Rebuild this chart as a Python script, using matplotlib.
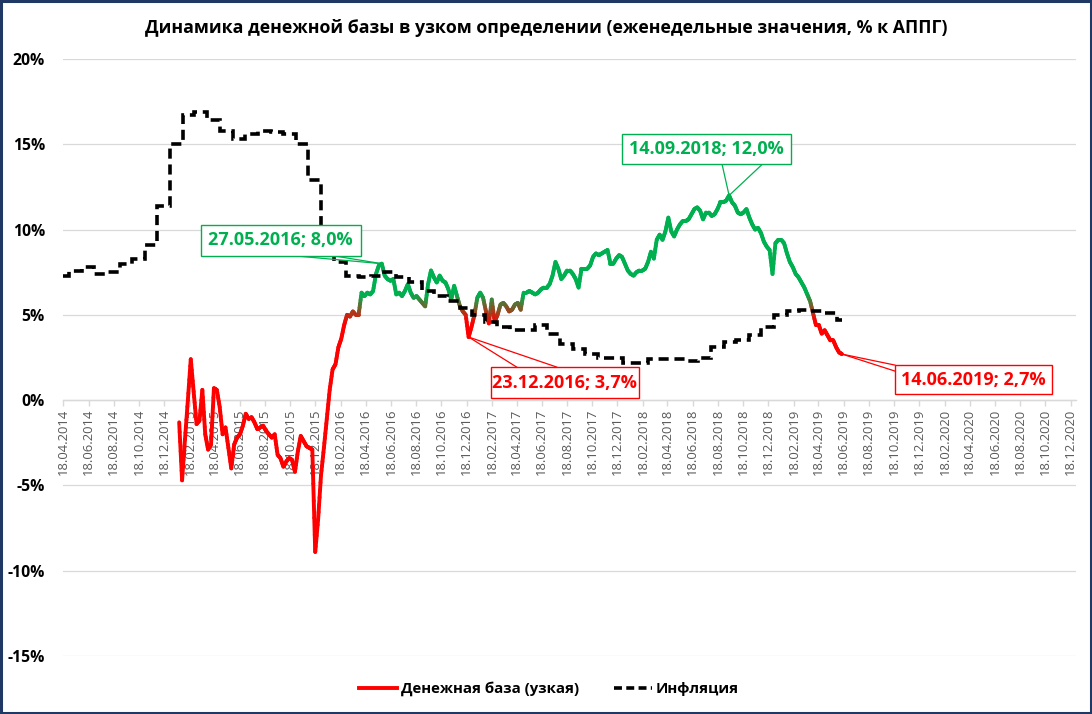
import numpy as np
import pandas as pd
import matplotlib

matplotlib.use("Agg")
import matplotlib.pyplot as plt
import matplotlib.dates as mdates
from matplotlib.collections import LineCollection
from matplotlib.colors import to_rgb
from matplotlib.lines import Line2D
from matplotlib.patches import Rectangle
from matplotlib.transforms import IdentityTransform

plt.rcParams["font.family"] = ["Open Sans", "DejaVu Sans"]
plt.rcParams["axes.unicode_minus"] = False

# weekly money base (narrow), % y/y, Fridays 23.01.2015 .. 14.06.2019
base_values = [
    -1.3, -4.7, -2.3, 0.0, 2.4, 0.5, -1.4, -1.2, 0.6, -2.0,
    -2.9, -2.6, 0.7, 0.6, -0.4, -2.0, -1.6, -2.8, -4.0, -2.6,
    -2.2, -2.0, -1.5, -0.8, -1.1, -1.0, -1.3, -1.7, -1.6, -1.5,
    -1.8, -2.0, -2.2, -2.0, -3.2, -3.4, -3.9, -3.6, -3.4, -3.5,
    -4.2, -3.0, -2.1, -2.4, -2.7, -2.8, -2.9, -8.9, -7.0, -4.4,
    -2.8, -1.1, 0.6, 1.8, 2.1, 3.1, 3.6, 4.4, 5.0, 4.9,
    5.2, 5.0, 5.0, 6.3, 6.1, 6.3, 6.2, 6.4, 7.4, 7.9,
    8.0, 7.3, 7.1, 7.0, 7.1, 6.2, 6.3, 6.1, 6.4, 6.8,
    6.3, 6.0, 6.1, 5.9, 5.7, 5.5, 6.8, 7.6, 7.2, 6.9,
    7.3, 7.0, 6.9, 6.5, 5.9, 6.7, 6.1, 5.5, 5.2, 5.0,
    3.7, 4.3, 5.0, 6.0, 6.3, 6.0, 5.2, 4.5, 5.9, 4.6,
    5.0, 5.6, 5.7, 5.5, 5.2, 5.3, 5.6, 5.7, 5.3, 6.3,
    6.3, 6.4, 6.3, 6.2, 6.3, 6.5, 6.6, 6.6, 6.8, 7.3,
    8.1, 7.7, 7.1, 7.3, 7.6, 7.6, 7.4, 7.1, 6.6, 7.7,
    7.7, 7.7, 7.9, 8.4, 8.6, 8.5, 8.6, 8.7, 8.8, 8.0,
    8.0, 8.3, 8.5, 8.4, 8.0, 7.6, 7.4, 7.3, 7.5, 7.6,
    7.6, 7.7, 8.1, 8.7, 8.3, 9.4, 9.7, 9.4, 9.9, 10.7,
    9.9, 9.6, 10.0, 10.3, 10.5, 10.5, 10.6, 10.9, 11.2, 11.3,
    11.1, 10.6, 11.0, 11.0, 10.8, 10.9, 11.2, 11.6, 11.6, 11.7,
    12.0, 11.6, 11.4, 11.0, 10.9, 11.0, 11.2, 10.7, 10.3, 10.0,
    10.1, 9.8, 9.3, 9.0, 8.8, 7.4, 9.2, 9.4, 9.4, 9.2,
    8.6, 8.1, 7.8, 7.4, 7.2, 6.9, 6.6, 6.2, 5.8, 5.1,
    4.4, 4.4, 3.9, 4.1, 3.8, 3.5, 3.5, 3.1, 2.8, 2.7,
]
base_end = "2019-06-14"

# monthly CPI, % y/y, April 2014 .. June 2019
infl_values = [
    7.3, 7.6, 7.8, 7.4, 7.5, 8.0, 8.3, 9.1, 11.4,
    15.0, 16.7, 16.9, 16.4, 15.8, 15.3, 15.6, 15.8, 15.7, 15.6, 15.0, 12.9,
    9.8, 8.1, 7.3, 7.2, 7.3, 7.5, 7.2, 6.9, 6.4, 6.1, 5.8, 5.4,
    5.0, 4.6, 4.3, 4.1, 4.1, 4.4, 3.9, 3.3, 3.0, 2.7, 2.5, 2.5,
    2.2, 2.2, 2.4, 2.4, 2.4, 2.3, 2.5, 3.1, 3.4, 3.5, 3.8, 4.3,
    5.0, 5.2, 5.3, 5.2, 5.1, 4.7,
]
infl_start = "2014-04-18"
infl_end = "2019-06-14"

callout_dates = ["2016-05-27", "2016-12-23", "2018-09-14", "2019-06-14"]

y_ticks = [-15, -10, -5, 0, 5, 10, 15, 20]
y_labels = [f"{v}%" for v in y_ticks]
x_ticks = [pd.Timestamp(2014 + (3 + 2 * k) // 12, (3 + 2 * k) % 12 + 1, 18) for k in range(41)]
x_labels = [d.strftime("%d.%m.%Y") for d in x_ticks]

title = "Динамика денежной базы в узком определении (еженедельные значения, % к АППГ)"
legend_labels = ["Денежная база (узкая)", "Инфляция"]

RED = "#FF0000"
GREEN = "#00B050"
GRID = "#D9D9D9"

base_dates = pd.date_range(end=base_end, periods=len(base_values), freq="W-FRI")
infl_edges = (
    [pd.Timestamp(infl_start)]
    + list(pd.date_range("2014-05-01", periods=len(infl_values) - 1, freq="MS"))
    + [pd.Timestamp(infl_end)]
)

fig = plt.figure(figsize=(10.92, 7.14), dpi=100)
ax = fig.add_axes([63 / 1092, 1 - 656 / 714, 1013 / 1092, 597 / 714])
ax.set_xlim(pd.Timestamp("2014-04-17"), pd.Timestamp("2020-12-31"))
ax.set_ylim(-15, 20)

for side in ("top", "right", "left"):
    ax.spines[side].set_visible(False)
ax.spines["bottom"].set_position(("data", 0))
ax.spines["bottom"].set_color(GRID)
ax.spines["bottom"].set_linewidth(1.0)

ax.set_yticks(y_ticks)
ax.set_yticklabels(y_labels, fontsize=11.3, fontweight="bold")
ax.tick_params(axis="y", length=0, pad=13)
ax.yaxis.grid(True, color=GRID, linewidth=0.9)
ax.set_axisbelow(True)

ax.set_xticks(x_ticks)
ax.set_xticklabels(x_labels, rotation=90, fontsize=9.4, color="#595959")
ax.tick_params(axis="x", length=4, color=GRID, width=1.0, pad=2)

# money base: vertical gradient red (low) -> green (high)
xn = mdates.date2num(base_dates)
yv = np.asarray(base_values, dtype=float)
red, green = np.array(to_rgb(RED)), np.array(to_rgb(GREEN))
segs, cols = [], []
steps = np.linspace(0, 1, 7)
for i in range(len(xn) - 1):
    xs = xn[i] + (xn[i + 1] - xn[i]) * steps
    ys = yv[i] + (yv[i + 1] - yv[i]) * steps
    for j in range(len(steps) - 1):
        segs.append([(xs[j], ys[j]), (xs[j + 1], ys[j + 1])])
        t = np.clip((0.5 * (ys[j] + ys[j + 1]) - 4.6) / 1.6, 0, 1)
        cols.append(red * (1 - t) + green * t)
lc = LineCollection(segs, colors=cols, linewidths=2.8, capstyle="round", joinstyle="round", zorder=3)
ax.add_collection(lc)

ax.stairs(
    infl_values,
    mdates.date2num(infl_edges),
    baseline=None,
    color="black",
    linewidth=2.6,
    linestyle=(0, (2.8, 1.6)),
    zorder=4,
)

fig.text(0.5, 1 - 28 / 714, title, ha="center", va="center", fontsize=12.75, fontweight="bold")

handles = [
    Line2D([], [], color=RED, linewidth=2.8),
    Line2D([], [], color="black", linewidth=2.6, linestyle=(0, (2.2, 1.2))),
]
fig.legend(
    handles,
    legend_labels,
    loc="center",
    bbox_to_anchor=(0.503, 1 - 689 / 714),
    ncol=2,
    frameon=False,
    prop={"weight": "bold", "size": 10.8},
    handlelength=2.5,
    handletextpad=0.3,
    columnspacing=2.3,
)

# callouts: box offset from point (px, y down), box size, wedge base offsets
callout_styles = [
    (GREEN, (-101, -23.5), (160, 31), [(-89, -8), (-49, -8)]),
    (RED, (96, 45.5), (148, 31), [(48, 30), (88, 30)]),
    (GREEN, (-22.5, -46), (169, 30), [(-7, -31), (33, -31)]),
    (RED, (131.5, 25.5), (157, 29), [(53, 11), (53, 17)]),
]
base_series = pd.Series(base_values, index=base_dates)
for d, (color, off, size, bases) in zip(callout_dates, callout_styles):
    stamp = pd.Timestamp(d)
    val = base_series[stamp]
    px, py = ax.transData.transform((mdates.date2num(stamp), val))
    cx, cy = px + off[0], py - off[1]
    w, h = size
    for bx, by in bases:
        fig.add_artist(Line2D([px, px + bx], [py, py - by], transform=IdentityTransform(),
                              color=color, linewidth=0.9, zorder=5))
    fig.add_artist(Rectangle((cx - w / 2, cy - h / 2), w, h, transform=IdentityTransform(),
                             facecolor="white", edgecolor=color, linewidth=1.0, zorder=6))
    label = f"{stamp:%d.%m.%Y}; " + f"{val:.1f}%".replace(".", ",")
    fig.text(cx, cy, label, transform=IdentityTransform(), ha="center", va="center",
             color=color, fontsize=13, fontweight="bold", zorder=7)

fig.add_artist(Rectangle((0.001, 0.0015), 0.998, 0.997, transform=fig.transFigure,
                         fill=False, edgecolor="#1F3864", linewidth=2.2))

fig.savefig("out.png", dpi=100)
plt.close(fig)
